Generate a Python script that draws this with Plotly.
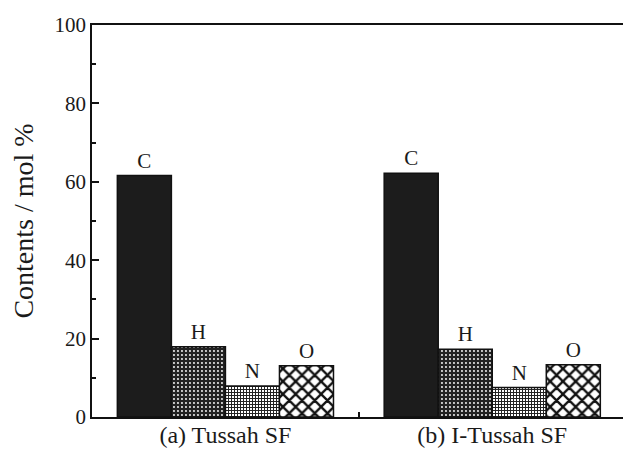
import plotly.graph_objects as go

groups = ["(a) Tussah SF", "(b) I-Tussah SF"]
elements = ["C", "H", "N", "O"]
values = {
    "C": [61.6, 62.2],
    "H": [17.9, 17.3],
    "N": [7.9, 7.5],
    "O": [13.1, 13.3],
}

styles = {
    "C": dict(color="#1c1c1c"),
    "H": dict(color="#1c1c1c", pattern=dict(shape=".", fgcolor="#ffffff", bgcolor="#222222", size=4, solidity=0.18, fillmode="replace")),
    "N": dict(color="#1c1c1c", pattern=dict(shape="+", fgcolor="#222222", bgcolor="#ffffff", size=3, solidity=0.55, fillmode="replace")),
    "O": dict(color="#1c1c1c", pattern=dict(shape="x", fgcolor="#111111", bgcolor="#ffffff", size=9, solidity=0.45, fillmode="replace")),
}

label_font = dict(family="Liberation Serif", size=21, color="#1a1a1a")
xpos = list(range(len(groups)))
fig = go.Figure()
for el in elements:
    fig.add_trace(go.Bar(
        x=xpos, y=values[el], name=el,
        text=[el] * len(groups), textposition="outside", constraintext="none",
        textfont=label_font, outsidetextfont=label_font,
        marker=dict(**styles[el], line=dict(color="#111111", width=1.5)),
        cliponaxis=False,
    ))

font = dict(family="Liberation Serif", size=20, color="#1a1a1a")
fig.update_layout(
    width=623, height=451,
    margin=dict(l=92, r=0, t=25, b=34, autoexpand=False),
    barmode="group", bargap=0.19, bargroupgap=0,
    plot_bgcolor="white", paper_bgcolor="white",
    showlegend=False, font=font,
)
fig.update_xaxes(
    range=[-0.5, 1.49], tickvals=xpos, ticktext=groups, ticks="", ticklen=0,
    showline=True, linecolor="#111111", linewidth=1.5, mirror=True,
    showgrid=False, zeroline=False, tickfont=dict(family="Liberation Serif", size=24),
    automargin=False, ticklabelstandoff=-5,
    minor=dict(tickvals=[0.5], ticks="inside", ticklen=5, tickcolor="#111111", tickwidth=1.5, showgrid=False),
)
fig.update_yaxes(
    range=[0, 100], tickvals=[0, 20, 40, 60, 80, 100], ticks="inside", ticklen=7,
    tickwidth=1.5, tickcolor="#111111",
    showline=True, linecolor="#111111", linewidth=1.5,
    showgrid=False, zeroline=False, tickfont=dict(family="Liberation Serif", size=21),
    automargin=False,
    minor=dict(tickvals=[10, 30, 50, 70, 90], ticks="inside", ticklen=4, tickwidth=1.5, tickcolor="#111111", showgrid=False),
    title=dict(text="Contents / mol %", font=dict(family="Liberation Serif", size=28), standoff=13),
)
fig.write_html("out.html")
